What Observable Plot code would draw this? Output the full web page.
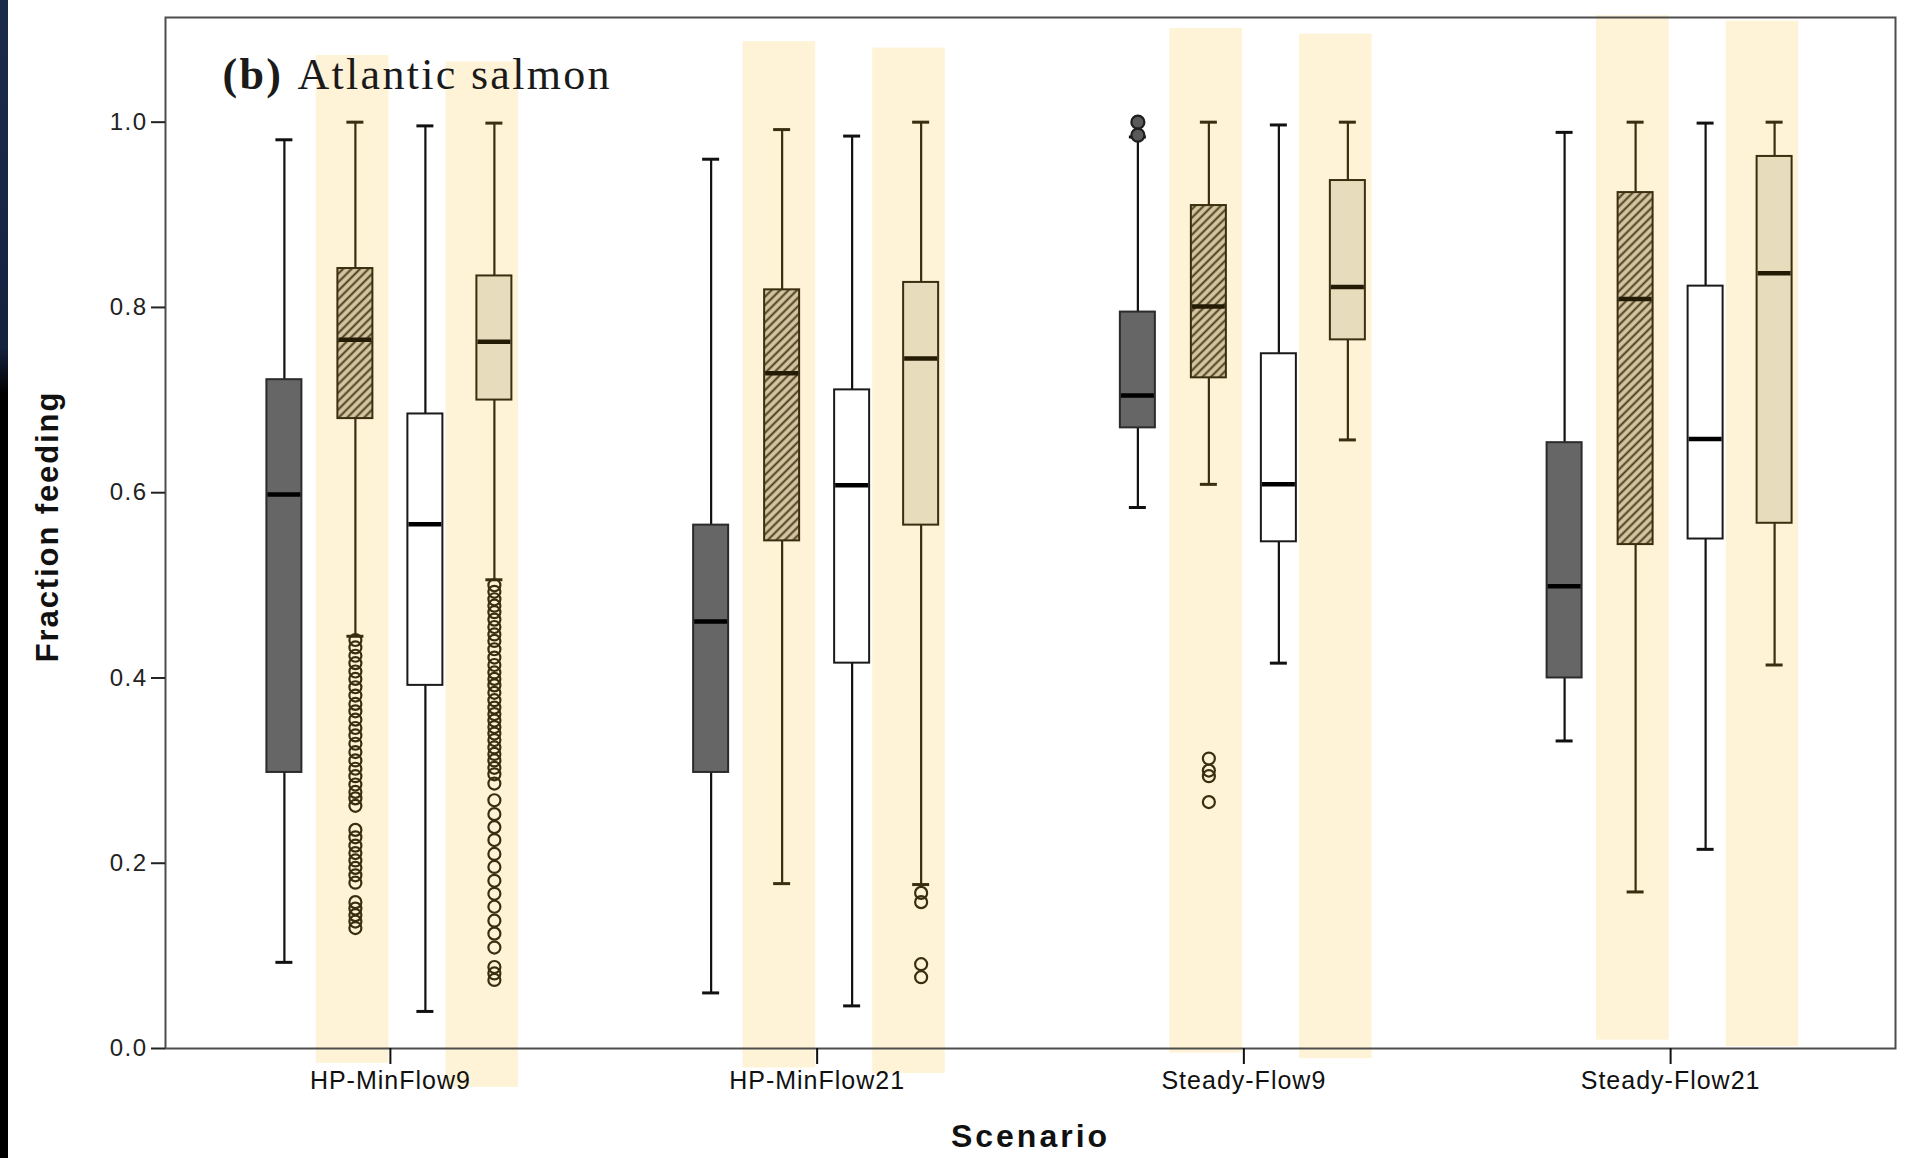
<!DOCTYPE html>
<html>
<head>
<meta charset="utf-8">
<script src="https://cdn.jsdelivr.net/npm/d3@7"></script>
<script src="https://cdn.jsdelivr.net/npm/@observablehq/plot@0.6"></script>
<style>
  html, body { margin: 0; padding: 0; background: #fff; overflow: hidden; }
  #wrap { position: relative; width: 1906px; height: 1158px; }
  #strip { position: absolute; left: 0; top: 0; width: 8px; height: 1158px;
    background: linear-gradient(180deg, #1c2a4a 0%, #16233f 30%, #000 34%, #000 100%); }
  g[aria-label="x-axis tick label"] text { letter-spacing: 1px; }
  g[aria-label="y-axis tick label"] text { letter-spacing: 1.5px; }
</style>
</head>
<body>
<div id="wrap"><div id="strip"></div></div>
<script>
// ---------------- data ----------------
const scenarios = ["HP-MinFlow9", "HP-MinFlow21", "Steady-Flow9", "Steady-Flow21"];
const seriesKeys = ["Dark", "Hatched", "White", "Tan"];

// box-plot summaries: rows = scenarios, columns = series (Dark, Hatched, White, Tan)
const whiskerLow  = [[0.093, 0.445, 0.040, 0.506], [0.060, 0.178, 0.046, 0.177], [0.584, 0.609, 0.416, 0.657], [0.332, 0.169, 0.215, 0.414]];
const quartile1   = [[0.298, 0.680, 0.392, 0.700], [0.298, 0.548, 0.416, 0.565], [0.670, 0.724, 0.547, 0.765], [0.400, 0.544, 0.550, 0.567]];
const medians     = [[0.598, 0.765, 0.566, 0.763], [0.461, 0.729, 0.608, 0.745], [0.705, 0.801, 0.609, 0.822], [0.499, 0.809, 0.658, 0.837]];
const quartile3   = [[0.722, 0.842, 0.685, 0.834], [0.565, 0.819, 0.711, 0.827], [0.795, 0.910, 0.750, 0.937], [0.654, 0.924, 0.823, 0.963]];
const whiskerHigh = [[0.981, 1.000, 0.996, 0.999], [0.960, 0.992, 0.985, 1.000], [0.984, 1.000, 0.997, 1.000], [0.989, 1.000, 0.999, 1.000]];

// outliers
const outliersHP9Hatched = [0.441, 0.433, 0.424, 0.416, 0.407, 0.399, 0.390, 0.381, 0.372, 0.364, 0.355, 0.346, 0.338, 0.329, 0.320, 0.311, 0.302, 0.294, 0.285, 0.277, 0.270, 0.262,
  0.236, 0.228, 0.219, 0.211, 0.203, 0.195, 0.187, 0.179, 0.158, 0.151, 0.144, 0.137, 0.130];
const outliersHP9Tan = [0.500, 0.493, 0.485, 0.478, 0.471, 0.463, 0.455, 0.447, 0.440, 0.431, 0.422, 0.414, 0.406, 0.399, 0.392, 0.384, 0.376, 0.368, 0.361, 0.354,
  0.347, 0.340, 0.333, 0.325, 0.318, 0.311, 0.303, 0.296, 0.286, 0.268, 0.253, 0.239, 0.225, 0.210, 0.196, 0.181, 0.167, 0.153, 0.138, 0.124, 0.109, 0.088, 0.081, 0.074];
const outliersHP21Tan = [0.168, 0.158, 0.091, 0.077];
const outliersSF9Dark = [1.000, 0.986];
const outliersSF9Hatched = [0.313, 0.300, 0.294, 0.266];

// highlighted (yellow) columns behind the Hatched and Tan boxes: [top, bottom] per scenario
const highlightTop    = [[1.072, 1.065], [1.087, 1.080], [1.101, 1.095], [1.115, 1.109]];
const highlightBottom = [[-0.016, -0.042], [-0.021, -0.027], [-0.005, -0.011], [0.009, 0.002]];

const yTicks = [0, 0.2, 0.4, 0.6, 0.8, 1.0];
const yMax = 1.113;

// ---------------- tables ----------------
const stats = [];
scenarios.forEach((sc, i) => seriesKeys.forEach((s, j) => stats.push({
  scenario: sc, series: s,
  lo: whiskerLow[i][j], q1: quartile1[i][j], med: medians[i][j], q3: quartile3[i][j], hi: whiskerHigh[i][j]
})));
const outliers = [
  ...outliersHP9Hatched.map(v => ({scenario: scenarios[0], series: "Hatched", value: v})),
  ...outliersHP9Tan.map(v => ({scenario: scenarios[0], series: "Tan", value: v})),
  ...outliersHP21Tan.map(v => ({scenario: scenarios[1], series: "Tan", value: v})),
  ...outliersSF9Dark.map(v => ({scenario: scenarios[2], series: "Dark", value: v})),
  ...outliersSF9Hatched.map(v => ({scenario: scenarios[2], series: "Hatched", value: v}))
];
const highlights = [];
scenarios.forEach((sc, i) => [0, 1].forEach(k => highlights.push({scenario: sc, col: k, top: highlightTop[i][k], bottom: highlightBottom[i][k]})));

// ---------------- layout & style ----------------
const W = 1906, H = 1158, mL = 165, mR = 11, mT = 17, mB = 110;
const padOuter = 0.027;
const step = (W - mL - mR) / (scenarios.length + 2 * padOuter);
const offsets = {Dark: -106, Hatched: -35, White: 35, Tan: 104};
const boxW = 35, capW = 17, hlW = 72.6;
const hlCenter = [-37.75, 91.9];
const styles = {
  Dark:    {fill: "#666666", stroke: "#2b2b2b", whisker: "#111", median: "#000", dotFill: "#5a5a5a", dotStroke: "#1e1e1e", r: 6.5},
  Hatched: {fill: "url(#hatch)", stroke: "#3a2e10", whisker: "#3a2e10", median: "#241b04", dotFill: "none", dotStroke: "#3a2e10", r: 6},
  White:   {fill: "#ffffff", stroke: "#1a1a1a", whisker: "#111", median: "#000", dotFill: "none", dotStroke: "#111", r: 6},
  Tan:     {fill: "#e7dcbc", stroke: "#3a2e10", whisker: "#3a2e10", median: "#241b04", dotFill: "none", dotStroke: "#3a2e10", r: 6}
};

const marks = [];
[0, 1].forEach(k => marks.push(Plot.barY(highlights.filter(d => d.col === k), {
  x: "scenario", y1: "bottom", y2: "top", dx: hlCenter[k],
  insetLeft: (step - hlW) / 2, insetRight: (step - hlW) / 2, fill: "#fef3d6"
})));
seriesKeys.forEach(s => {
  const d = stats.filter(r => r.series === s), st = styles[s], off = offsets[s];
  marks.push(Plot.ruleX(d, {x: "scenario", y1: "lo", y2: "hi", dx: off, stroke: st.whisker, strokeWidth: 2.2}));
  marks.push(Plot.tickY(d, {x: "scenario", y: "hi", dx: off, inset: (step - capW) / 2, stroke: st.whisker, strokeWidth: 3}));
  marks.push(Plot.tickY(d, {x: "scenario", y: "lo", dx: off, inset: (step - capW) / 2, stroke: st.whisker, strokeWidth: 3}));
  marks.push(Plot.barY(d, {x: "scenario", y1: "q1", y2: "q3", dx: off,
    insetLeft: (step - boxW) / 2, insetRight: (step - boxW) / 2, fill: st.fill, stroke: st.stroke, strokeWidth: 2}));
  marks.push(Plot.tickY(d, {x: "scenario", y: "med", dx: off, inset: (step - boxW) / 2 + 1, stroke: st.median, strokeWidth: 4.5}));
  marks.push(Plot.dot(outliers.filter(o => o.series === s), {x: "scenario", y: "value", dx: off, r: st.r,
    fill: st.dotFill, stroke: st.dotStroke, strokeWidth: 2.2}));
});
marks.push(Plot.frame({stroke: "#4d4d4d", strokeWidth: 2}));
marks.push(Plot.axisY({ticks: yTicks, tickFormat: d3.format(".1f"), tickSize: 14, tickPadding: 4, fontSize: 24, color: "#222", strokeWidth: 2, label: null}));
marks.push(Plot.axisX({tickSize: 16, tickPadding: 7, fontSize: 25, color: "#111", strokeWidth: 2, label: null}));
marks.push(Plot.text(["Fraction feeding"], {text: d => d, frameAnchor: "left", textAnchor: "middle", lineAnchor: "middle",
  dx: -117, dy: -6.5, rotate: -90, fontSize: 31, fontWeight: "bold", fill: "#111"}));
marks.push(Plot.text(["Scenario"], {text: d => d, frameAnchor: "bottom", lineAnchor: "middle", dy: 88, fontSize: 32, fontWeight: "bold", fill: "#111"}));
const serif = "'Liberation Serif', 'Times New Roman', serif";
marks.push(Plot.text(["(b)"], {text: d => d, frameAnchor: "top-left", textAnchor: "start", lineAnchor: "middle", dx: 57, dy: 57,
  fontFamily: serif, fontSize: 44, fontWeight: "bold", fill: "#1a1a1a"}));
marks.push(Plot.text(["Atlantic salmon"], {text: d => d, frameAnchor: "top-left", textAnchor: "start", lineAnchor: "middle", dx: 132, dy: 57,
  fontFamily: serif, fontSize: 44, fill: "#1a1a1a"}));

const chart = Plot.plot({
  width: W, height: H,
  marginLeft: mL, marginRight: mR, marginTop: mT, marginBottom: mB,
  style: {fontFamily: "'Liberation Sans', Arial, sans-serif", background: "#fff", color: "#111"},
  x: {domain: scenarios, paddingInner: 0, paddingOuter: padOuter, round: false, axis: null},
  y: {domain: [0, yMax], axis: null},
  marks
});

// hatch pattern for the hatched boxes
const svg = d3.select(chart.tagName === "svg" ? chart : chart.querySelector("svg"));
const defs = svg.insert("defs", ":first-child");
const pat = defs.append("pattern").attr("id", "hatch").attr("patternUnits", "userSpaceOnUse")
  .attr("width", 6).attr("height", 6).attr("patternTransform", "rotate(-45)");
pat.append("rect").attr("width", 6).attr("height", 6).attr("fill", "#d3c59f");
pat.append("line").attr("x1", 0).attr("x2", 6).attr("y1", 1.5).attr("y2", 1.5).attr("stroke", "#45381a").attr("stroke-width", 1.9);

// letter spacing for titles
const spacing = {"Fraction feeding": "1.9px", "Scenario": "3px", "(b)": "2.3px", "Atlantic salmon": "2.3px"};
svg.selectAll("text").each(function() {
  const t = this.textContent;
  if (spacing[t]) this.style.letterSpacing = spacing[t];
});

document.getElementById("wrap").appendChild(chart);
</script>
</body>
</html>
